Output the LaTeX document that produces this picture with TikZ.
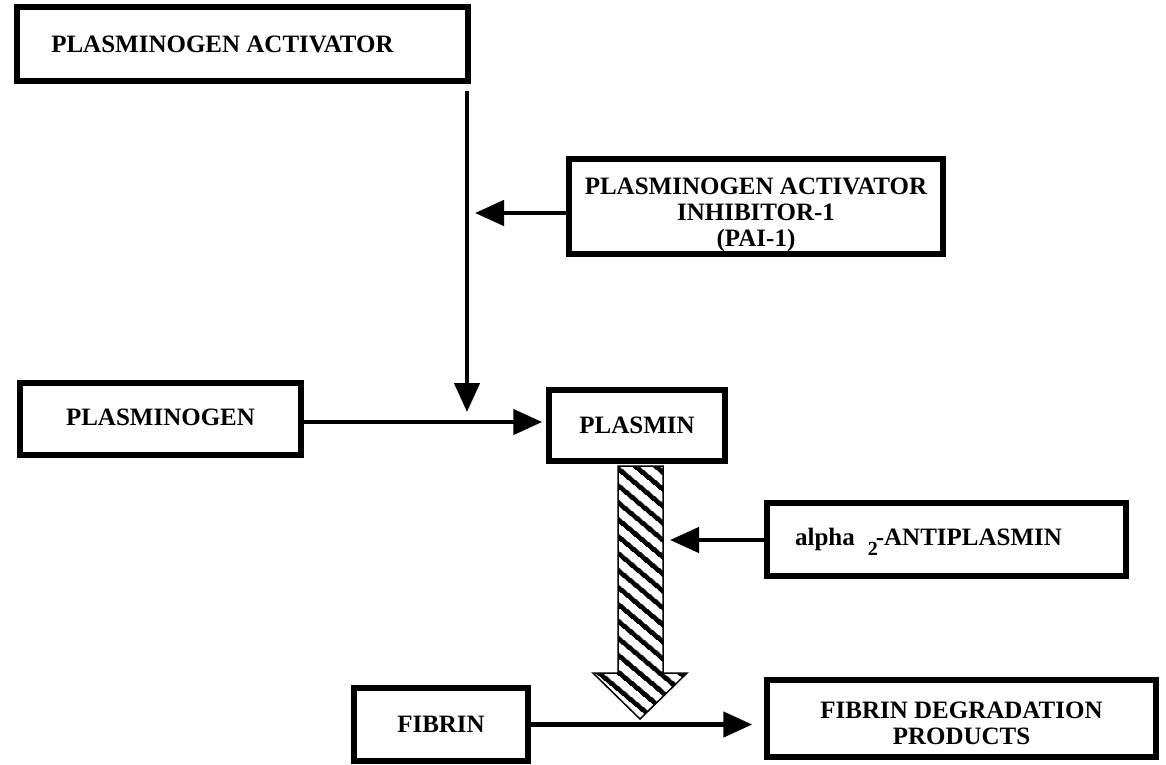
\documentclass[tikz,border=0pt]{standalone}
\usepackage{fontspec}
\setmainfont{Liberation Serif}
\usetikzlibrary{arrows.meta, patterns.meta}

\begin{document}
\begin{tikzpicture}[x=1pt, y=-1pt,
  box/.style={draw, line width=5.5pt, inner sep=0pt, align=center,
              font=\fontsize{25}{26}\selectfont\bfseries},
  arr/.style={line width=4.5pt, -{Triangle[length=29pt, width=25pt]}},
  hatch/.style={draw, line width=1.5pt,
                pattern={Lines[angle=-40, distance=13pt, line width=5pt]}},
]
\useasboundingbox (0,0) rectangle (1166,764);

\node[box, minimum width=451pt, minimum height=74pt] (pa) at (242.5,44) {PLASMINOGEN ACTIVATOR\hspace{40pt}};
\node[box, minimum width=374pt, minimum height=95pt] (pai) at (756,206.5) {\rule{0pt}{33pt}PLASMINOGEN ACTIVATOR\\INHIBITOR-1\\(PAI-1)};
\node[box, minimum width=281pt, minimum height=72pt] (plg) at (160.5,419) {PLASMINOGEN\rule[-4pt]{0pt}{4pt}};
\node[box, minimum width=176pt, minimum height=71pt] (plm) at (637,425.5) {PLASMIN};
\node[box, minimum width=359pt, minimum height=73pt] (apl) at (946.5,539.5) {alpha\hspace{13pt}\smash{\raisebox{-10pt}{\fontsize{20}{20}\selectfont 2}}\kern-2pt-ANTIPLASMIN\hspace{36pt}};
\node[box, minimum width=174pt, minimum height=73pt] (fib) at (441,724.5) {FIBRIN};
\node[box, minimum width=389pt, minimum height=77pt] (fdp) at (961.5,718.5) {\rule{0pt}{27pt}FIBRIN DEGRADATION\\PRODUCTS};

\coordinate (vtop) at (467,91);
\coordinate (vtip) at (467,412);
\coordinate (itip) at (475,213);
\coordinate (atip) at (670,540);

\draw[arr] (vtop) -- (vtip);
\draw[arr] (pai.west |- itip) -- (itip);
\draw[arr, shorten >=4pt] ([yshift=-3pt]plg.east) -- ([yshift=-3pt]plg.east -| plm.west);
\draw[hatch] (618,466) -- (663,466) -- (663,673) -- (687,673) -- (640,719)
  -- (593,673) -- (618,673) -- cycle;
\draw[arr] (apl.west |- atip) -- (atip);
\draw[arr, shorten >=12pt] (fib.east) -- (fib.east -| fdp.west);
\end{tikzpicture}
\end{document}
